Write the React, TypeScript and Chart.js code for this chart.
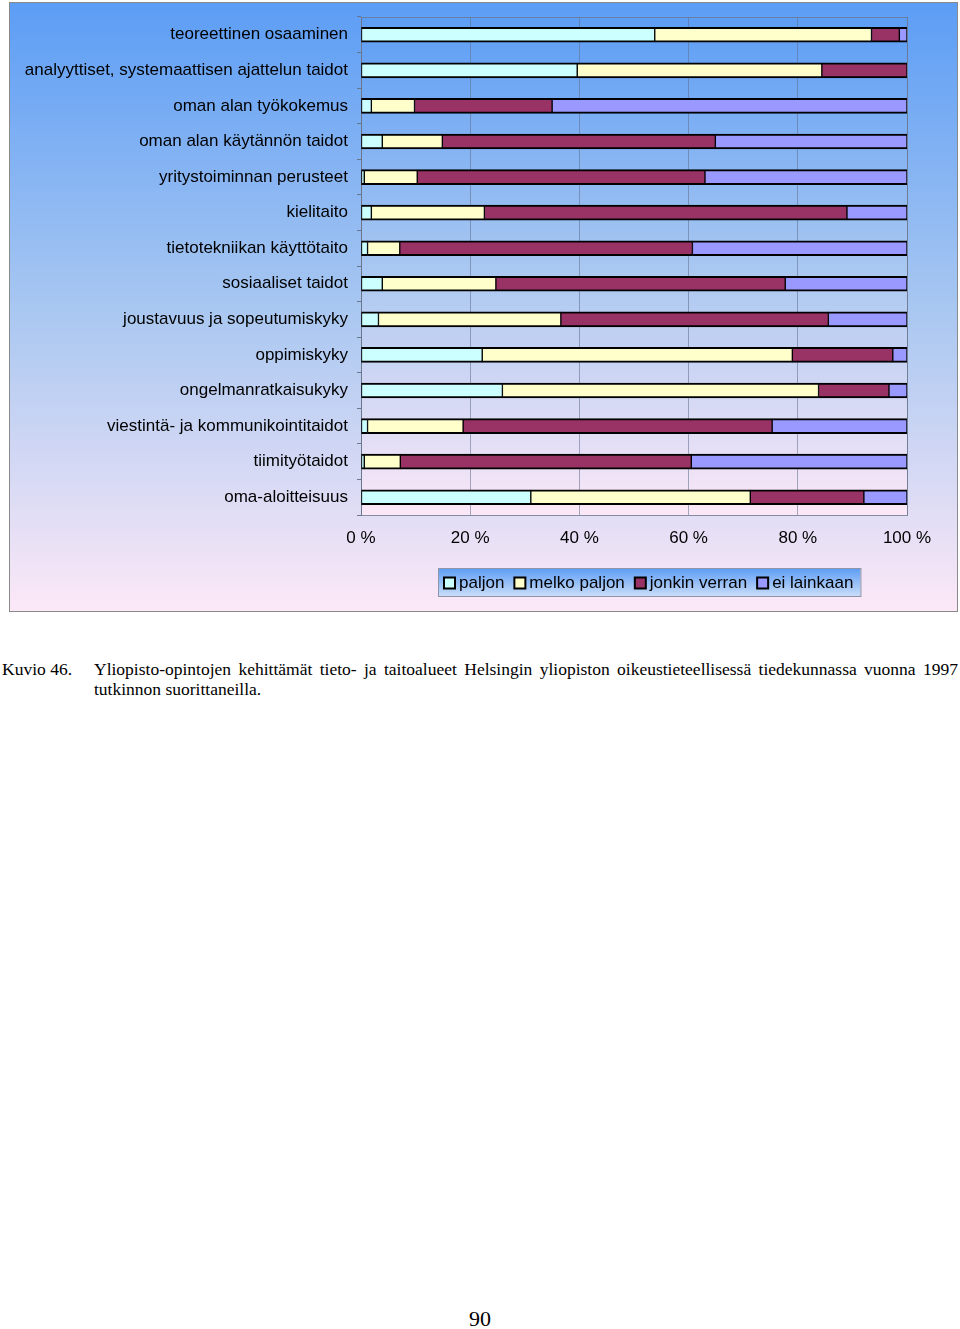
import React, { useEffect, useRef } from "react";
import { Chart, registerables } from "chart.js";

Chart.register(...registerables);

const categories = [
  "teoreettinen osaaminen",
  "analyyttiset, systemaattisen ajattelun taidot",
  "oman alan työkokemus",
  "oman alan käytännön taidot",
  "yritystoiminnan perusteet",
  "kielitaito",
  "tietotekniikan käyttötaito",
  "sosiaaliset taidot",
  "joustavuus ja sopeutumiskyky",
  "oppimiskyky",
  "ongelmanratkaisukyky",
  "viestintä- ja kommunikointitaidot",
  "tiimityötaidot",
  "oma-aloitteisuus",
];

const seriesNames = ["paljon", "melko paljon", "jonkin verran", "ei lainkaan"];

const paljon = [53.8, 39.6, 1.9, 3.9, 0.6, 1.9, 1.2, 3.9, 3.2, 22.2, 25.9, 1.2, 0.6, 31.1];
const melkoPaljon = [39.7, 44.8, 7.9, 11.0, 9.7, 20.7, 5.9, 20.8, 33.4, 56.8, 57.9, 17.5, 6.6, 40.2];
const jonkinVerran = [5.1, 15.6, 25.2, 50.0, 52.7, 66.4, 53.6, 53.0, 49.0, 18.4, 12.9, 56.6, 53.3, 20.8];
const eiLainkaan = [1.4, 0, 65.0, 35.1, 37.0, 11.0, 39.3, 22.3, 14.4, 2.6, 3.3, 24.7, 39.5, 7.9];

const xTicks = [0, 20, 40, 60, 80, 100];

const seriesColors = ["#ccffff", "#ffffcc", "#993366", "#9999ff"];

const FONT = "'Liberation Sans', Arial, sans-serif";

function addStops(g: CanvasGradient) {
  g.addColorStop(0, "#5c9df5");
  g.addColorStop(0.5, "#a8c7f1");
  g.addColorStop(1, "#fce8f7");
}

const decorPlugin = {
  id: "decor",
  beforeDraw(chart: any) {
    const { ctx, width, height, chartArea: a } = chart;
    ctx.save();
    const g = ctx.createLinearGradient(0, 0, 0, height);
    addStops(g);
    ctx.fillStyle = g;
    ctx.fillRect(0, 0, width, height);
    const g2 = ctx.createLinearGradient(0, a.top, 0, a.bottom);
    addStops(g2);
    ctx.fillStyle = g2;
    ctx.fillRect(a.left, a.top, a.right - a.left, a.bottom - a.top);
    ctx.restore();
  },
  beforeDatasetsDraw(chart: any) {
    const { ctx, chartArea: a } = chart;
    ctx.save();
    ctx.strokeStyle = "rgba(110,120,140,0.8)";
    ctx.lineWidth = 1;
    ctx.strokeRect(a.left + 0.5, a.top + 0.5, a.right - a.left, a.bottom - a.top);
    ctx.restore();
  },
  afterDraw(chart: any) {
    const { ctx, chartArea: a } = chart;
    const ds = chart.data.datasets;
    ctx.save();
    ctx.font = `17px ${FONT}`;
    const marker = 11;
    const textGap = 15;
    const itemGap = 10;
    const padL = 6;
    const padR = 7;
    const widths = ds.map((d: any) => ctx.measureText(d.label).width);
    let total = padL + padR;
    widths.forEach((w: number, i: number) => {
      total += textGap + w + (i < widths.length - 1 ? itemGap : 0);
    });
    const cx = (a.left + a.right) / 2 + 15;
    const x0 = Math.round(cx - total / 2);
    const y0 = a.bottom + 53;
    const h = 28;
    const g = ctx.createLinearGradient(0, y0, 0, y0 + h);
    g.addColorStop(0, "#5c9df5");
    g.addColorStop(1, "#c8dcf8");
    ctx.fillStyle = g;
    ctx.fillRect(x0, y0, total, h);
    ctx.strokeStyle = "#8f95a8";
    ctx.lineWidth = 1;
    ctx.strokeRect(x0 + 0.5, y0 + 0.5, total, h);
    let x = x0 + padL;
    const cy = y0 + h / 2 + 1;
    ds.forEach((d: any, i: number) => {
      ctx.fillStyle = d.backgroundColor;
      ctx.fillRect(x, cy - marker / 2, marker, marker);
      ctx.strokeStyle = "#000";
      ctx.lineWidth = 2;
      ctx.strokeRect(x, cy - marker / 2, marker, marker);
      ctx.fillStyle = "#000";
      ctx.textBaseline = "middle";
      ctx.textAlign = "left";
      ctx.fillText(d.label, x + textGap, cy);
      x += textGap + widths[i] + itemGap;
    });
    ctx.restore();
  },
};

function StackedChart() {
  const ref = useRef<HTMLCanvasElement | null>(null);
  useEffect(() => {
    if (!ref.current) return;
    const seriesData = [paljon, melkoPaljon, jonkinVerran, eiLainkaan];
    const chart = new Chart(ref.current, {
      type: "bar",
      data: {
        labels: categories,
        datasets: seriesNames.map((name, i) => ({
          label: name,
          data: seriesData[i],
          backgroundColor: seriesColors[i],
          borderColor: "#000",
          borderWidth: { top: 2, bottom: 2, left: 1, right: 1 },
          borderSkipped: false,
          barThickness: 15,
        })),
      },
      options: {
        indexAxis: "y",
        animation: false,
        responsive: false,
        maintainAspectRatio: false,
        layout: { padding: { top: 14, right: 50, left: 0, bottom: 0 } },
        plugins: {
          legend: { display: false },
          tooltip: { enabled: false },
        },
        scales: {
          x: {
            stacked: true,
            min: 0,
            max: 100,
            afterBuildTicks: (s: any) => {
              s.ticks = xTicks.map((v) => ({ value: v }));
            },
            ticks: {
              callback: (v: any) => `${v} %`,
              color: "#000",
              font: { family: FONT, size: 17 },
              padding: 13,
              maxRotation: 0,
              autoSkip: false,
            },
            grid: { color: "rgba(95,110,140,0.55)", drawTicks: false, lineWidth: 1 },
            border: { display: false },
            afterFit: (s: any) => {
              s.height = 96;
              s.paddingLeft = 0;
              s.paddingRight = 0;
            },
          },
          y: {
            stacked: true,
            ticks: {
              color: "#000",
              font: { family: FONT, size: 17 },
              padding: 9,
              autoSkip: false,
            },
            grid: {
              drawOnChartArea: false,
              drawTicks: true,
              tickLength: 4,
              color: "rgba(100,110,130,0.9)",
            },
            border: { display: true, color: "rgba(100,110,130,0.9)" },
            afterFit: (s: any) => {
              s.width = 351;
              s.paddingTop = 0;
              s.paddingBottom = 0;
            },
          },
        },
      },
      plugins: [decorPlugin],
    } as any);
    return () => chart.destroy();
  }, []);
  return (
    <canvas
      ref={ref}
      width={947}
      height={608}
      style={{ display: "block", width: 947, height: 608 }}
    />
  );
}

export default function App() {
  return (
    <div
      style={{
        position: "absolute",
        left: 0,
        top: 0,
        width: 960,
        height: 1329,
        overflow: "hidden",
        background: "#fff",
      }}
    >
      <div
        style={{
          position: "absolute",
          left: 9,
          top: 2,
          width: 949,
          height: 610,
          boxSizing: "border-box",
          border: "1px solid #8a8a8a",
        }}
      >
        <StackedChart />
      </div>
      <div
        style={{
          position: "absolute",
          left: 2,
          top: 659,
          width: 956,
          display: "flex",
          fontFamily: "'Liberation Serif', 'Times New Roman', serif",
          fontSize: 17.5,
          lineHeight: "20px",
          color: "#000",
        }}
      >
        <div style={{ width: 92, flex: "none" }}>Kuvio 46.</div>
        <div style={{ width: 864, textAlign: "justify" }}>
          Yliopisto-opintojen kehittämät tieto- ja taitoalueet Helsingin yliopiston
          oikeustieteellisessä tiedekunnassa vuonna 1997 tutkinnon suorittaneilla.
        </div>
      </div>
      <div
        style={{
          position: "absolute",
          left: 0,
          top: 1309,
          width: 960,
          textAlign: "center",
          fontFamily: "'Liberation Serif', 'Times New Roman', serif",
          fontSize: 22,
          lineHeight: "20px",
          color: "#000",
        }}
      >
        90
      </div>
    </div>
  );
}
